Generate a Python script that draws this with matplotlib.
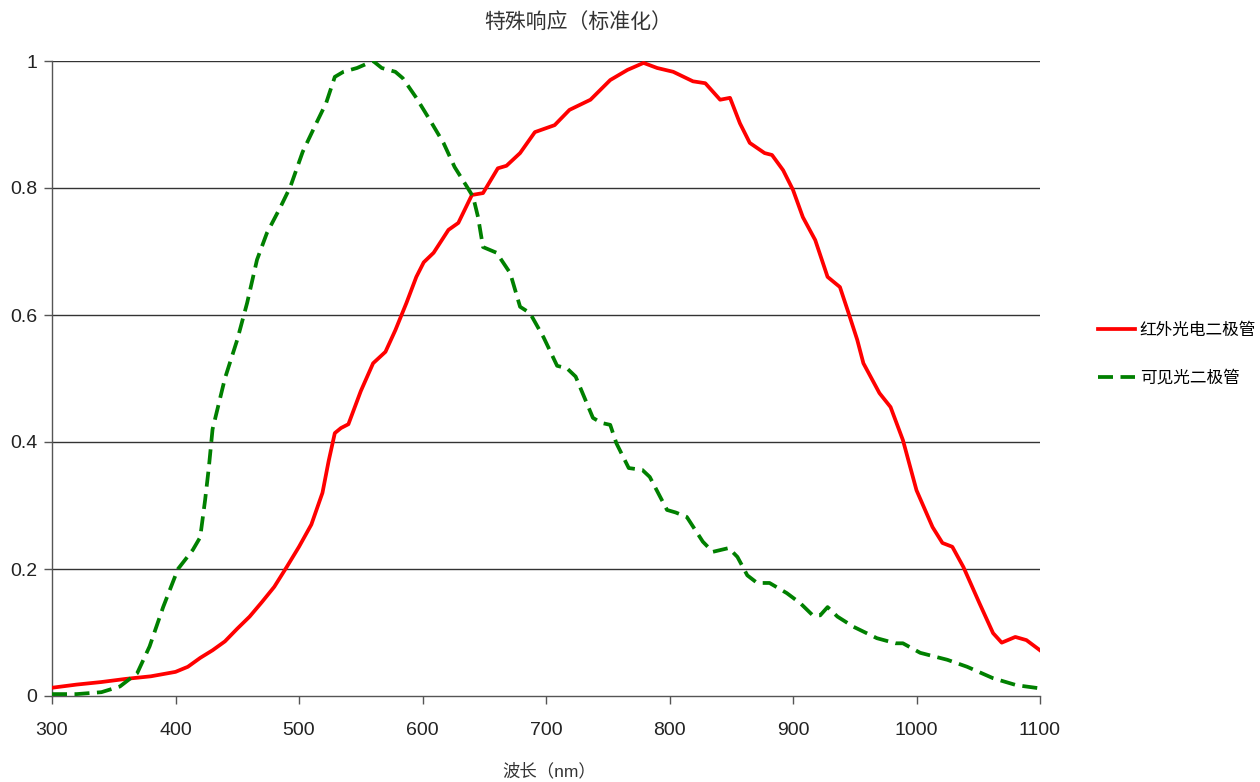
import matplotlib
matplotlib.use("Agg")
import matplotlib.pyplot as plt

plt.rcParams['font.family'] = ['Liberation Sans', 'Noto Sans CJK SC', 'DejaVu Sans']

title = "特殊响应（标准化）"
xlabel = "波长（nm）"
label_ir = "红外光电二极管"
label_vis = "可见光二极管"

ir_nm = [300, 320, 340, 360, 380, 400, 410, 420, 430, 440, 450, 460, 470, 480, 490, 500, 510,
         519, 524, 529, 534, 540, 550, 560, 570, 578, 587, 595, 601, 609, 621, 629, 640, 649,
         661, 668, 679, 691, 707, 719, 736, 752, 766, 779, 790, 803, 819, 829, 841, 849, 857,
         865, 877, 883, 892, 900, 908, 918, 928, 938, 945, 952, 957, 970, 979, 989, 1000, 1013,
         1021, 1029, 1038, 1051, 1062, 1069, 1080, 1089, 1100]
ir_val = [0.013, 0.018, 0.022, 0.027, 0.031, 0.038, 0.046, 0.060, 0.072, 0.086, 0.106, 0.125,
          0.148, 0.172, 0.203, 0.235, 0.270, 0.320, 0.370, 0.414, 0.422, 0.428, 0.480, 0.524,
          0.542, 0.576, 0.619, 0.660, 0.683, 0.698, 0.734, 0.745, 0.789, 0.792, 0.831, 0.835,
          0.855, 0.888, 0.899, 0.923, 0.939, 0.970, 0.986, 0.997, 0.989, 0.983, 0.968, 0.965,
          0.939, 0.942, 0.902, 0.871, 0.855, 0.852, 0.828, 0.797, 0.754, 0.718, 0.660, 0.644,
          0.603, 0.561, 0.524, 0.477, 0.455, 0.403, 0.324, 0.266, 0.241, 0.235, 0.203, 0.146,
          0.099, 0.084, 0.093, 0.088, 0.072]

vis_nm = [300, 320, 340, 355, 369, 379, 390, 402, 414, 420, 424, 427, 430, 440, 450, 458, 466,
          474, 485, 493, 503, 514, 522, 529, 536, 547, 560, 567, 578, 584, 595, 606, 617, 626,
          636, 641, 645, 649, 660, 671, 679, 687, 698, 709, 717, 724, 738, 745, 752, 757, 767,
          778, 784, 798, 805, 814, 827, 835, 848, 855, 863, 871, 881, 895, 906, 916, 922, 928,
          936, 949, 968, 983, 989, 1003, 1025, 1041, 1062, 1081, 1100]
vis_val = [0.003, 0.003, 0.006, 0.015, 0.036, 0.078, 0.140, 0.200, 0.230, 0.250, 0.309, 0.360,
           0.420, 0.500, 0.561, 0.619, 0.687, 0.729, 0.770, 0.802, 0.857, 0.902, 0.934, 0.975,
           0.983, 0.989, 1.000, 0.989, 0.983, 0.973, 0.942, 0.907, 0.871, 0.833, 0.802, 0.786,
           0.754, 0.707, 0.698, 0.666, 0.613, 0.603, 0.565, 0.520, 0.516, 0.503, 0.438, 0.430,
           0.427, 0.398, 0.359, 0.356, 0.345, 0.293, 0.289, 0.282, 0.243, 0.227, 0.233, 0.219,
           0.190, 0.178, 0.178, 0.162, 0.146, 0.127, 0.127, 0.140, 0.125, 0.109, 0.091, 0.083,
           0.083, 0.068, 0.057, 0.046, 0.028, 0.017, 0.012]

x_ticks = [300, 400, 500, 600, 700, 800, 900, 1000, 1100]
y_ticks = [0, 0.2, 0.4, 0.6, 0.8, 1.0]
y_ticklabels = ["0", "0.2", "0.4", "0.6", "0.8", "1"]

fig = plt.figure(figsize=(12.6, 7.82), dpi=100)
ax = fig.add_axes([52 / 1260, 86 / 782, 988 / 1260, 635 / 782])

ax.plot(ir_nm, ir_val, color='#ff0000', lw=2.7, label=label_ir, solid_joinstyle='round',
        zorder=3)
ax.plot(vis_nm, vis_val, color='#008000', lw=2.7, linestyle=(0, (4, 2)), label=label_vis,
        zorder=3)

ax.set_xlim(300, 1100)
ax.set_ylim(0, 1)
ax.set_xticks(x_ticks)
ax.set_yticks(y_ticks)
ax.set_yticklabels(y_ticklabels)

for y in y_ticks[1:]:
    ax.axhline(y, color='#333333', lw=1.0, zorder=1)

for s in ['top', 'right']:
    ax.spines[s].set_visible(False)
for s in ['left', 'bottom']:
    ax.spines[s].set_color('#555555')
    ax.spines[s].set_linewidth(1.0)

ax.tick_params(axis='x', direction='out', length=6, width=1, color='#555555',
               labelsize=14, labelcolor='#222222', pad=13)
ax.tick_params(axis='y', direction='out', length=6, width=1, color='#555555',
               labelsize=14, labelcolor='#222222', pad=4.5)

ax.set_title(title, fontsize=15, color='#333333', pad=24, x=(578 - 52) / 988)
ax.set_xlabel(xlabel, fontsize=12.5, color='#333333', labelpad=17, x=(549 - 52) / 988)

fig.legend(loc='center left', bbox_to_anchor=(1083 / 1260, 1 - 354 / 782), frameon=False,
           fontsize=12, handlelength=2.2, labelspacing=1.9, handletextpad=0.3)

fig.savefig('out.png', dpi=100, facecolor='white')
